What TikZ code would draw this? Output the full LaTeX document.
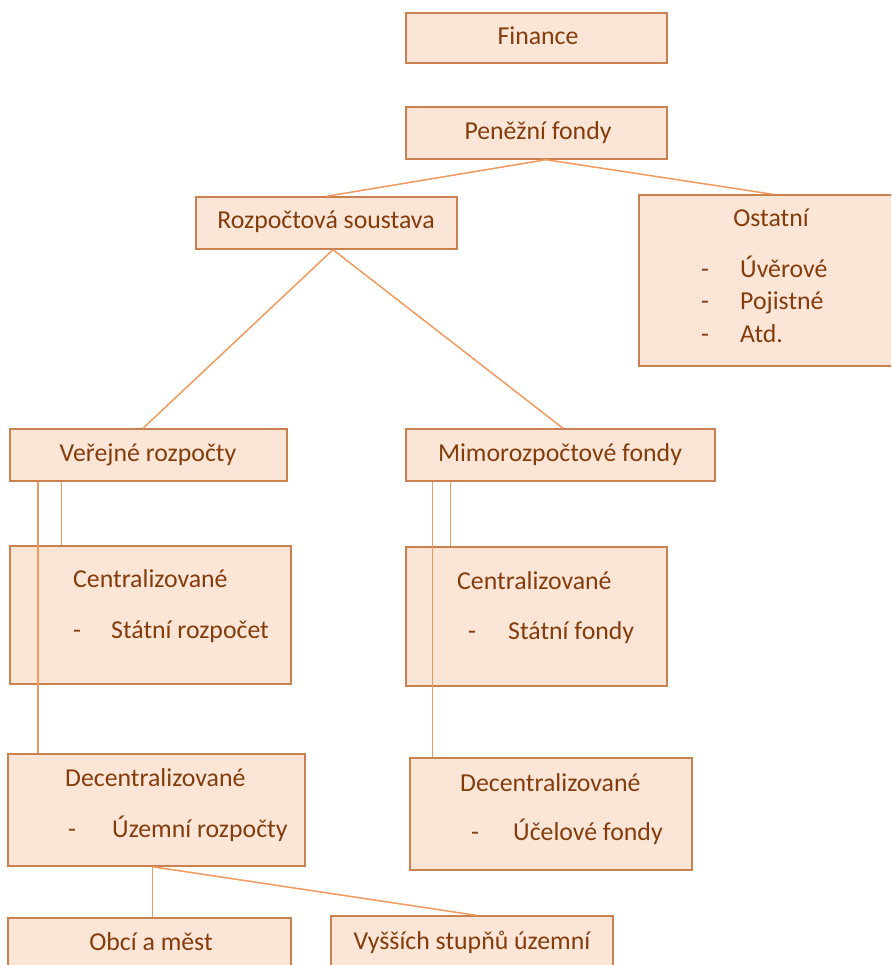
\documentclass[tikz,border=0pt]{standalone}
\usepackage{fontspec}
\setmainfont{Carlito}
\definecolor{txt}{HTML}{843C0C}
\definecolor{boxfill}{HTML}{FBE5D6}
\definecolor{boxline}{HTML}{C9814F}
\definecolor{conn}{HTML}{F19A5E}
\tikzset{
  fnt/.style={font=\fontsize{25.8}{30}\selectfont, text=txt},
  box/.style={draw=boxline, fill=boxfill, line width=1.4pt, rectangle, inner sep=0pt, fnt},
  lbl/.style={fnt, inner sep=0pt, text height=18pt, text depth=4pt, anchor=west},
  ctr/.style={fnt, inner sep=0pt, text height=18pt, text depth=4pt},
  conn/.style={draw=conn, line width=1.5pt}
}
\begin{document}
\begin{tikzpicture}[x=1pt,y=-1pt]
\useasboundingbox (0,0) rectangle (891,965);
\clip (0,0) rectangle (891,965);
% boxes
\node[box, minimum width=261pt, minimum height=50pt] (fin) at (536.5,38) {};
\node[box, minimum width=261pt, minimum height=52pt] (pen) at (536.5,133) {};
\node[box, minimum width=261pt, minimum height=52pt] (roz) at (326.5,223) {};
\node[box, minimum width=256pt, minimum height=171pt] (ost) at (767,280.5) {};
\node[box, minimum width=277pt, minimum height=52pt] (ver) at (148.5,455) {};
\node[box, minimum width=309pt, minimum height=52pt] (mim) at (560.5,455) {};
\node[box, minimum width=281pt, minimum height=138pt] (cl) at (150.5,615) {};
\node[box, minimum width=261pt, minimum height=139pt] (cr) at (536.5,616.5) {};
\node[box, minimum width=297pt, minimum height=112pt] (dl) at (156.5,810) {};
\node[box, minimum width=282pt, minimum height=112pt] (dr) at (551,814) {};
\node[box, minimum width=283pt, minimum height=60pt] (obc) at (149.5,948) {};
\node[box, minimum width=282pt, minimum height=62pt] (vys) at (472,947) {};
% texts
\node[ctr] (fint) at (538,38) {Finance};
\node[ctr] (pent) at (538,133) {Peněžní fondy};
\node[ctr] (rozt) at (326,222) {Rozpočtová soustava};
\node[ctr] (vert) at (148,454) {Veřejné rozpočty};
\node[ctr] (mimt) at (560,454) {Mimorozpočtové fondy};
\node[ctr] (ostt) at (771,220) {Ostatní};
\node[ctr] (ostd1) at (705,270) {-};
\node[ctr] (ostd2) at (705,302) {-};
\node[ctr] (ostd3) at (705,335) {-};
\node[lbl] (osti1) at (740,270) {Úvěrové};
\node[lbl] (osti2) at (740,302) {Pojistné};
\node[lbl] (osti3) at (740,335) {Atd.};
\node[lbl] (clt) at (73,580) {Centralizované};
\node[ctr] (cld) at (77,631) {-};
\node[lbl] (cli) at (111,631) {Státní rozpočet};
\node[lbl] (crt) at (457,582) {Centralizované};
\node[ctr] (crd) at (472,632) {-};
\node[lbl] (cri) at (508,632) {Státní fondy};
\node[lbl] (dlt) at (65,779) {Decentralizované};
\node[ctr] (dld) at (72,830) {-};
\node[lbl] (dli) at (112,830) {Územní rozpočty};
\node[lbl] (drt) at (460,784) {Decentralizované};
\node[ctr] (drd) at (475,833) {-};
\node[lbl] (dri) at (513,833) {Účelové fondy};
\node[ctr] (obct) at (151,943) {Obcí a měst};
\node[ctr] (vyst) at (472,942) {Vyšších stupňů územní};
% connectors
\draw[conn] ([xshift=9.5pt]pen.south) -- (roz.north);
\draw[conn] ([xshift=9.5pt]pen.south) -- ([xshift=6pt]ost.north);
\draw[conn] ([xshift=6.5pt]roz.south) -- ([xshift=-5.5pt]ver.north);
\draw[conn] ([xshift=6.5pt]roz.south) -- ([xshift=2.5pt]mim.north);
\draw[conn] ([xshift=52pt]ver.south west) -- ([xshift=52pt]cl.north west);
\draw[conn] ([xshift=28.5pt]ver.south west) -- ([xshift=30.5pt]dl.north west);
\draw[conn] ([xshift=45pt]mim.south west) -- ([xshift=45pt]cr.north west);
\draw[conn] ([xshift=27pt]mim.south west) -- ([xshift=23pt]dr.north west);
\draw[conn] ([xshift=145pt]dl.south west) -- ([xshift=145pt]obc.north west);
\draw[conn] ([xshift=145pt]dl.south west) -- ([xshift=146pt]vys.north west);
\end{tikzpicture}
\end{document}
